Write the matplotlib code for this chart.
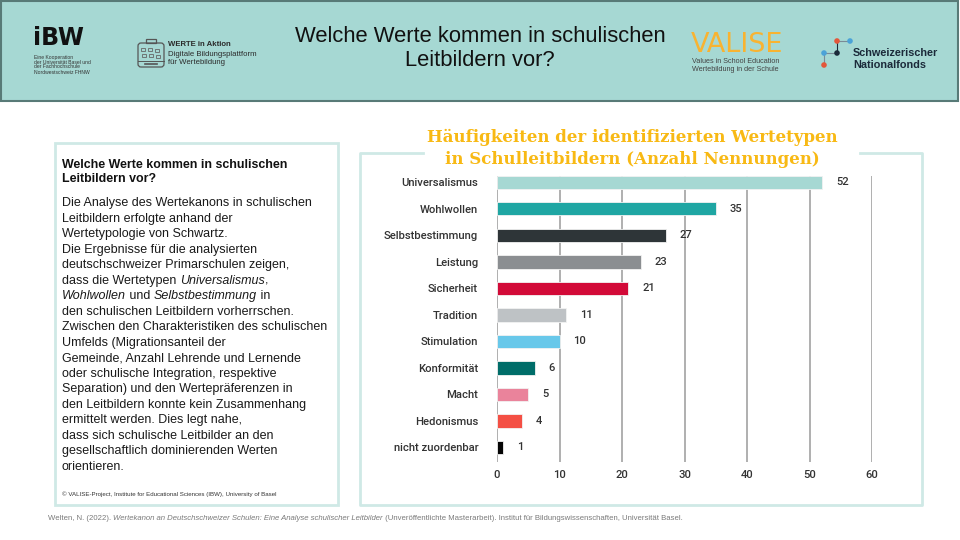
import numpy as np
import matplotlib
matplotlib.use("Agg")
import matplotlib.pyplot as plt
from matplotlib.patches import Rectangle, FancyBboxPatch

# chart data
categories = ["Universalismus", "Wohlwollen", "Selbstbestimmung", "Leistung", "Sicherheit",
              "Tradition", "Stimulation", "Konformität", "Macht", "Hedonismus", "nicht zuordenbar"]
counts = [52, 35, 27, 23, 21, 11, 10, 6, 5, 4, 1]
bar_colors = ["#a6d8d3", "#1fa6a3", "#2e3538", "#8b8e91", "#d20a38", "#bec2c5",
              "#68c8ea", "#006d69", "#ea839b", "#f44f44", "#050505"]
x_ticks = [0, 10, 20, 30, 40, 50, 60]

slide_title = ["Welche Werte kommen in schulischen", "Leitbildern vor?"]
chart_title = ["Häufigkeiten der identifizierten Wertetypen",
               "in Schulleitbildern (Anzahl Nennungen)"]
box_heading = ["Welche Werte kommen in schulischen", "Leitbildern vor?"]
# each body line is a list of (text, italic?)
box_body = [
    [("Die Analyse des Wertekanons in schulischen", False)],
    [("Leitbildern erfolgte anhand der", False)],
    [("Wertetypologie von Schwartz.", False)],
    [("Die Ergebnisse für die analysierten", False)],
    [("deutschschweizer Primarschulen zeigen,", False)],
    [("dass die Wertetypen ", False), ("Universalismus", True), (",", False)],
    [("Wohlwollen", True), (" und ", False), ("Selbstbestimmung", True), (" in", False)],
    [("den schulischen Leitbildern vorherrschen.", False)],
    [("Zwischen den Charakteristiken des schulischen", False)],
    [("Umfelds (Migrationsanteil der", False)],
    [("Gemeinde, Anzahl Lehrende und Lernende", False)],
    [("oder schulische Integration, respektive", False)],
    [("Separation) und den Wertepräferenzen in", False)],
    [("den Leitbildern konnte kein Zusammenhang", False)],
    [("ermittelt werden. Dies legt nahe,", False)],
    [("dass sich schulische Leitbilder an den", False)],
    [("gesellschaftlich dominierenden Werten", False)],
    [("orientieren.", False)],
]
copyright_line = "© VALISE-Project, Institute for Educational Sciences (IBW), University of Basel"
footer = [("Welten, N. (2022). ", False),
          ("Wertekanon an Deutschschweizer Schulen: Eine Analyse schulischer Leitbilder", True),
          (" (Unveröffentlichte Masterarbeit). Institut für Bildungswissenschaften, Universität Basel.", False)]

SANS = "Liberation Sans"
BOX_EDGE = "#cfe9e6"


def rich(ax, x, y, parts, size, color, weight="normal"):
    prev = None
    for s, it in parts:
        style = "italic" if it else "normal"
        if prev is None:
            prev = ax.text(x, y, s, fontsize=size, color=color, family=SANS, style=style,
                           weight=weight, ha="left", va="center")
        else:
            prev = ax.annotate(s, xy=(1, 0), xycoords=prev, fontsize=size, color=color,
                               family=SANS, style=style, weight=weight, ha="left", va="bottom")


fig = plt.figure(figsize=(9.6, 5.4), dpi=100)
bg = fig.add_axes([0, 0, 1, 1])
bg.set_xlim(0, 960)
bg.set_ylim(540, 0)
bg.axis("off")

# header band
bg.add_patch(Rectangle((1, 1), 957, 100, facecolor="#a6d8d3", edgecolor="#587a77", lw=1.5))
for i, line in enumerate(slide_title):
    bg.text(480, 36 + 25 * i, line, fontsize=15.8, family=SANS, color="#111111",
            ha="center", va="center")

# iBW logo
bg.text(33, 38, "iBW", fontsize=17, weight="bold", family="DejaVu Sans", color="#111111",
        ha="left", va="center")
for i, line in enumerate(["Eine Kooperation", "der Universität Basel und",
                          "der Fachhochschule", "Nordwestschweiz FHNW"]):
    bg.text(34, 57 + 5 * i, line, fontsize=3.6, family=SANS, color="#333333", va="center")

# WERTE in Aktion logo (suitcase)
bg.add_patch(FancyBboxPatch((138, 43), 26, 24, boxstyle="round,pad=0,rounding_size=3",
                            facecolor="none", edgecolor="#555555", lw=0.9))
bg.add_patch(Rectangle((146, 39), 10, 4, facecolor="none", edgecolor="#555555", lw=0.9))
bg.plot([138, 164], [61, 61], color="#555555", lw=0.7)
bg.plot([145, 157], [64, 64], color="#555555", lw=1.2)
for px, py in [(143, 49), (150, 49), (157, 50), (144, 55), (151, 55), (158, 56)]:
    bg.add_patch(Rectangle((px - 2, py - 1.5), 4, 3, facecolor="none", edgecolor="#666666", lw=0.6))
bg.text(168, 44, "WERTE in Aktion", fontsize=5.6, weight="bold", family=SANS, color="#2b2b2b", va="center")
bg.text(168, 54, "Digitale Bildungsplattform", fontsize=5.6, family=SANS, color="#2b2b2b", va="center")
bg.text(168, 63, "für Wertebildung", fontsize=5.6, family=SANS, color="#2b2b2b", va="center")

# VALISE logo
bg.text(737, 45, "VALISE", fontsize=19.5, family="DejaVu Sans", color="#f8b331",
        ha="center", va="center")
bg.text(692, 61.5, "Values in School Education", fontsize=5.2, family=SANS, color="#444444", va="center")
bg.text(692, 69.5, "Wertebildung in der Schule", fontsize=5.2, family=SANS, color="#444444", va="center")

# SNF logo
bg.plot([837, 850], [41, 41], color="#7a8a96", lw=0.8)
bg.plot([837, 837], [41, 53], color="#1b2a3a", lw=0.8)
bg.plot([824, 837], [53, 53], color="#7a8a96", lw=0.8)
bg.plot([824, 824], [53, 65], color="#7a8a96", lw=0.8)
bg.scatter([837, 850, 837, 824, 824], [41, 41, 53, 53, 65], s=9,
           c=["#e4573a", "#4ba3d8", "#1b2a3a", "#4ba3d8", "#e4573a"], zorder=3)
bg.text(853, 53.5, "Schweizerischer", fontsize=7.8, weight="bold", family=SANS, color="#1b2a3a", va="center")
bg.text(853, 64.5, "Nationalfonds", fontsize=7.8, weight="bold", family=SANS, color="#1b2a3a", va="center")

# left text box
bg.add_patch(Rectangle((55, 143), 283, 362, facecolor="white", edgecolor=BOX_EDGE, lw=2))
for i, line in enumerate(box_heading):
    bg.text(62, 165 + 14 * i, line, fontsize=8.9, weight="bold", family=SANS,
            color="#111111", va="center")
for i, parts in enumerate(box_body):
    rich(bg, 62, 203 + 15.53 * i, parts, 9.0, "#1a1a1a")
bg.text(62, 494, copyright_line, fontsize=4.45, family=SANS, color="#333333", va="center")

# chart frame with gap for the title
bg.plot([423, 360, 360, 922, 922, 860], [153, 153, 505, 505, 153, 153], color=BOX_EDGE, lw=2)
for i, line in enumerate(chart_title):
    bg.text(632, 137 + 23 * i, line, fontsize=12.0, weight="bold", family="DejaVu Serif",
            color="#f8b914", ha="center", va="center")

# footer
rich(bg, 48, 519, footer, 5.6, "#7a7a7a")

# bar chart
ax = fig.add_axes([497 / 960, 1 - 462 / 540, 375 / 960, 286 / 540])
ax.set_facecolor("none")
y = np.arange(len(categories))
ax.barh(y, counts, height=0.5, color=bar_colors, edgecolor="#f2f2f2", lw=0.6, zorder=3)
for yi, v in zip(y, counts):
    ax.annotate(str(v), xy=(v, yi), xytext=(10, 0), textcoords="offset points",
                ha="left", va="center", fontsize=8.0, family="Roboto", weight="medium", color="#333333")
ax.set_xlim(0, 60)
ax.set_ylim(10.55, -0.24)
ax.set_xticks(x_ticks)
ax.set_yticks(y)
ax.set_yticklabels(categories)
ax.tick_params(length=0)
ax.tick_params(axis="y", pad=13.5)
ax.tick_params(axis="x", pad=6)
for lab in ax.get_xticklabels() + ax.get_yticklabels():
    lab.set_fontfamily("Roboto")
    lab.set_fontweight("medium")
    lab.set_fontsize(8.1)
    lab.set_color("#333333")
ax.grid(axis="x", color="#9a9a9a", lw=1.1, zorder=0)
for sp in ax.spines.values():
    sp.set_visible(False)

fig.savefig("out.png", dpi=100)
